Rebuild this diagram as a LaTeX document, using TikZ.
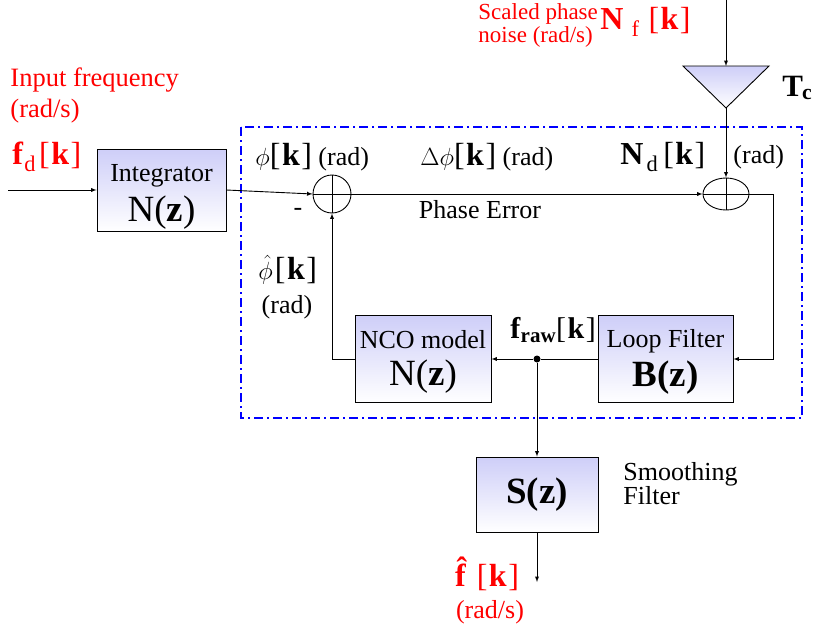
\documentclass[tikz,border=0pt]{standalone}
\usepackage{fontspec}
\setmainfont{Liberation Serif}
\usetikzlibrary{shapes.geometric}
\definecolor{boxtop}{RGB}{206,206,248}
\definecolor{loopblue}{RGB}{0,0,255}
\newcommand{\kidx}{[\kern1.5pt\textbf{k}\kern1.5pt]}
\begin{document}
\begin{tikzpicture}[x=1pt,y=-1pt,>=latex,line width=0.9pt,
  block/.style={draw, rectangle, top color=boxtop, bottom color=white, align=center, inner sep=0pt, font=\fontsize{26}{30}\selectfont},
  lbl/.style={inner sep=0pt, font=\fontsize{26}{30}\selectfont},
  redlbl/.style={lbl, text=red},
  big/.style={font=\fontsize{32}{34}\selectfont}]
\useasboundingbox (0,0) rectangle (815,632);

% dash-dot loop frame
\draw[loopblue, line width=1.4pt, dash pattern=on 9pt off 4pt on 2pt off 4pt] (241,127) rectangle (802,418);

% blocks
\node[block, minimum width=129pt, minimum height=82pt] (integ) at (161.5,190) {\rule{0pt}{31pt}Integrator\\[7pt]{\fontsize{37}{37}\selectfont N(\textbf{z})}};
\node[block, minimum width=136pt, minimum height=87pt] (nco) at (423,359) {\rule{0pt}{24pt}NCO model\\[7pt]{\fontsize{37}{37}\selectfont N(\textbf{z})}};
\node[block, minimum width=135pt, minimum height=87pt] (loop) at (665.5,359) {\rule{0pt}{24pt}Loop Filter\\[7pt]{\fontsize{37}{37}\selectfont\bfseries B(z)}};
\node[block, minimum width=122pt, minimum height=75pt] (smooth) at (537,494.5) {{\fontsize{37}{37}\selectfont\bfseries S(z)}};

% summing junctions
\node[draw, circle, minimum size=38pt, inner sep=0pt] (sum1) at (332,194) {};
\node[draw, ellipse, minimum width=46pt, minimum height=32pt, inner sep=0pt] (sum2) at (726,194) {};
\draw (sum1.north) -- (sum1.south) (sum1.west) -- (sum1.east);
\draw (sum2.north) -- (sum2.south) (sum2.west) -- (sum2.east);

% gain T_c
\coordinate (tl) at (683,66);
\coordinate (tr) at (769,66);
\coordinate (apex) at (726,108);
\coordinate (tmid) at (726,66);
\shade[draw, top color=boxtop, bottom color=white] (tl) -- (tr) -- (apex) -- cycle;

% free ends
\coordinate (in) at (8,190);
\coordinate (noise) at (726,0);
\coordinate (rbend) at (773,194);
\coordinate (out) at (537,582);
\node[circle, fill, inner sep=0pt, minimum size=7pt] (tap) at (537,359) {};

% connectors
\draw[->] (in) -- (integ.west);
\draw[->] (integ.east) -- (sum1.west);
\draw[->] (sum1.east) -- (sum2.west);
\draw[->] (noise) -- (tmid);
\draw[->] (apex) -- (sum2.north);
\draw[->] (sum2.east) -- (rbend) |- (loop.east);
\draw (loop.west) -- (tap);
\draw[->] (tap) -- (nco.east);
\draw[->] (nco.west) -| (sum1.south);
\draw[->] (tap) -- (smooth.north);
\draw[->] (smooth.south) -- (out);

% labels
\node[redlbl, anchor=north west, align=left, font=\fontsize{26.5}{31}\selectfont] (infreq) at (10,67) {Input frequency\\(rad/s)};
\node[redlbl, anchor=west, big] (fd) at (12,157) {\textbf{f}\kern1pt\textsubscript{d}\kern3pt\kidx};
\node[lbl, anchor=west] (phi) at (255,157) {{\fontsize{32}{34}\selectfont$\phi$\kidx} (rad)};
\node[lbl] (minus) at (298,212) {-};
\node[lbl, anchor=west] (dphi) at (420,157) {{\fontsize{32}{34}\selectfont$\Delta\phi$\kidx} (rad)};
\node[lbl, anchor=west, big] (nd) at (620,157) {\textbf{N}\kern3pt\textsubscript{d}\kern5pt\kidx};
\node[lbl, anchor=west] (ndrad) at (733,157) {(rad)};
\node[lbl] (perr) at (480,210) {Phase Error};
\node[lbl, anchor=west, big] (phihat) at (258,270) {$\hat{\phi}$\kern2pt\kidx};
\node[lbl] (phihatrad) at (287,307) {(rad)};
\node[lbl, anchor=west, font=\fontsize{30}{32}\selectfont] (fraw) at (510,330) {\textbf{f}\textsubscript{\textbf{raw}}\kidx};
\node[lbl, anchor=north west, align=left, font=\fontsize{26}{24}\selectfont] (smtxt) at (623,462) {Smoothing\\Filter};
\node[redlbl, big] (fhat) at (487,574) {\textbf{\^{f}}\kern6pt\kidx};
\node[redlbl] (fhatrad) at (490,612) {(rad/s)};
\node[redlbl, anchor=north west, align=left, font=\fontsize{23}{23}\selectfont] (scaled) at (478,3) {Scaled phase\\noise (rad/s)};
\node[redlbl, anchor=west, big] (nf) at (600,22) {\textbf{N}\kern8pt\textsubscript{f}\kern9pt\kidx};
\node[lbl, anchor=west, font=\fontsize{31}{34}\selectfont] (tc) at (782,88) {\bfseries T\kern-1pt\textsubscript{c}};
\end{tikzpicture}
\end{document}
